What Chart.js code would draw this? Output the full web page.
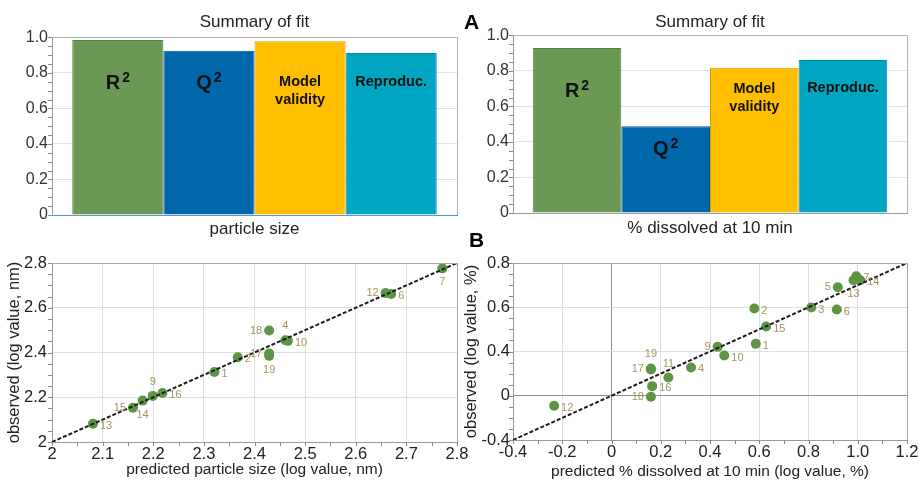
<!DOCTYPE html>
<html>
<head>
<meta charset="utf-8">
<script src="https://cdn.jsdelivr.net/npm/chart.js@4.4.1/dist/chart.umd.min.js"></script>
<style>
  body { margin:0; background:#fff; width:919px; height:481px; position:relative; overflow:hidden; font-family:'Liberation Sans', Arial, sans-serif; }
  canvas { position:absolute; }
  #fitParticle { left:0; top:0; }
  #fitDissolved { left:460px; top:0; }
  #obsParticle { left:0; top:240px; }
  #obsDissolved { left:460px; top:240px; }
  .tag { position:absolute; font-weight:bold; font-size:21px; line-height:1; color:#000; }
</style>
</head>
<body>
<canvas id="fitParticle" width="470" height="240"></canvas>
<canvas id="fitDissolved" width="459" height="240"></canvas>
<canvas id="obsParticle" width="470" height="241"></canvas>
<canvas id="obsDissolved" width="459" height="241"></canvas>
<div class="tag" style="left:464px;top:11px">A</div>
<div class="tag" style="left:469px;top:229px">B</div>
<script>
// summary of fit
const fitMetrics = ["R2", "Q2", "Model validity", "Reproduc."];
const fitParticle = [0.985, 0.925, 0.978, 0.912];
const fitDissolved = [0.929, 0.489, 0.818, 0.861];
const fitColors = ["#6a9955", "#0067ab", "#ffbe00", "#00a5c1"];
const fitEdges = ["#55803f", "#00558f", "#d99e00", "#008ea6"];

// observed vs predicted, particle size (log nm)
const particleIds  = ["1", "2", "4", "6", "7", "9", "10", "12", "13", "14", "15", "16", "17", "18", "19"];
const particlePred = [2.321, 2.367, 2.461, 2.670, 2.771, 2.199, 2.466, 2.659, 2.081, 2.179, 2.160, 2.218, 2.429, 2.429, 2.429];
const particleObs  = [2.313, 2.379, 2.455, 2.662, 2.776, 2.206, 2.452, 2.666, 2.082, 2.185, 2.153, 2.219, 2.395, 2.498, 2.385];

// observed vs predicted, % dissolved at 10 min (log %)
const dissolvedIds  = ["1", "2", "3", "4", "5", "6", "7", "9", "10", "11", "12", "13", "14", "15", "16", "17", "18", "19"];
const dissolvedPred = [0.586, 0.580, 0.811, 0.323, 0.919, 0.915, 0.994, 0.431, 0.458, 0.231, -0.233, 0.983, 1.010, 0.628, 0.165, 0.160, 0.160, 0.160];
const dissolvedObs  = [0.469, 0.788, 0.797, 0.256, 0.980, 0.779, 1.080, 0.442, 0.364, 0.165, -0.090, 1.044, 1.044, 0.626, 0.087, 0.238, -0.009, 0.247];

// y tick labels of the dissolved plot, as printed
const dissolvedYTicks = [-0.4, 0, 0.4, 0.8, 1.2];
const dissolvedYLabels = ["-0.4", "0", "0.4", "0.6", "0.8"];

// where the point numbers sit
const particleSides = {"1":"r","2":"r","4":"t","6":"r","7":"b","9":"t","10":"r","12":"l","13":"r","14":"b","15":"l","16":"r","17":"l","18":"l","19":"b"};
const dissolvedSides = {"1":"r","2":"r","3":"r","4":"r","5":"l","6":"r","7":"r","9":"l","10":"r","11":"t","12":"r","13":"b","14":"r","15":"r","16":"r","17":"l","18":"l","19":"t"};

Chart.defaults.font.family = "'Liberation Sans', Arial, sans-serif";
Chart.defaults.color = "#333";
Chart.defaults.animation = false;
Chart.defaults.responsive = false;
Chart.defaults.plugins.legend.display = false;
Chart.defaults.plugins.tooltip.enabled = false;

// fixed axis sizes so the plot areas line up with the figure
function fixWidth(w) {
  return s => { s.width = w; s.paddingTop = 0; s.paddingBottom = 0; s.paddingLeft = 0; s.paddingRight = 0; };
}
function fixHeight(h) {
  return s => { s.height = h; s.paddingTop = 0; s.paddingBottom = 0; s.paddingLeft = 0; s.paddingRight = 0; };
}
const dec = v => Math.abs(v) < 1e-9 ? "0" : v.toFixed(1);
const evenOnly = v => Math.round(v * 10) % 2 === 0 ? dec(v) : "";
const sizeLabel = v => Math.abs(v - 2) < 1e-9 ? "2" : v.toFixed(1);

const frame = {
  id: "frame",
  afterDraw(chart, args, opts) {
    if (!opts.color) return;
    const {ctx, chartArea: a} = chart;
    ctx.save();
    ctx.strokeStyle = opts.color;
    ctx.lineWidth = 1;
    ctx.beginPath();
    ctx.moveTo(a.left, Math.round(a.top) + 0.5);
    ctx.lineTo(Math.round(a.right) + 0.5, Math.round(a.top) + 0.5);
    ctx.lineTo(Math.round(a.right) + 0.5, a.bottom);
    ctx.stroke();
    ctx.restore();
  }
};

const minorTicks = {
  id: "minorTicks",
  afterDraw(chart, args, opts) {
    const {ctx, chartArea: a, scales} = chart;
    ctx.save();
    ctx.strokeStyle = "#8a8a8a";
    ctx.lineWidth = 1;
    ctx.beginPath();
    if (opts.y) {
      const y = scales.y, n = Math.round((y.max - y.min) / opts.y);
      for (let i = 0; i <= n; i++) {
        const p = Math.round(y.getPixelForValue(y.min + i * opts.y)) + 0.5;
        ctx.moveTo(a.left - 4, p); ctx.lineTo(a.left, p);
      }
    }
    if (opts.x) {
      const x = scales.x, n = Math.round((x.max - x.min) / opts.x);
      for (let i = 0; i <= n; i++) {
        const p = Math.round(x.getPixelForValue(x.min + i * opts.x)) + 0.5;
        ctx.moveTo(p, a.bottom); ctx.lineTo(p, a.bottom + 4);
      }
    }
    ctx.stroke();
    ctx.restore();
  }
};

const barText = {
  id: "barText",
  afterDatasetsDraw(chart, args, opts) {
    if (!opts.at) return;
    const {ctx, scales: {y}} = chart;
    ctx.save();
    ctx.fillStyle = "#111";
    chart.data.datasets.forEach((ds, i) => {
      const bar = chart.getDatasetMeta(i).data[0];
      const cy = y.getPixelForValue(opts.at[i]);
      const name = ds.label;
      const sup = name.match(/^([A-Z])2$/);
      if (sup) {
        ctx.font = "bold 20px 'Liberation Sans', Arial, sans-serif";
        const wm = ctx.measureText(sup[1]).width;
        ctx.font = "bold 14px 'Liberation Sans', Arial, sans-serif";
        const ws = ctx.measureText("2").width;
        const x0 = bar.x - (wm + 2 + ws) / 2;
        const base = cy + 7;
        ctx.textAlign = "left";
        ctx.textBaseline = "alphabetic";
        ctx.font = "bold 20px 'Liberation Sans', Arial, sans-serif";
        ctx.fillText(sup[1], x0, base);
        ctx.font = "bold 14px 'Liberation Sans', Arial, sans-serif";
        ctx.fillText("2", x0 + wm + 2, base - 7);
      } else {
        ctx.font = "bold 14.5px 'Liberation Sans', Arial, sans-serif";
        ctx.textAlign = "center";
        ctx.textBaseline = "middle";
        const lines = name === "Model validity" ? ["Model", "validity"] : [name];
        lines.forEach((t, k) => ctx.fillText(t, bar.x, cy + k * 17.5));
      }
    });
    ctx.restore();
  }
};

const pointIds = {
  id: "pointIds",
  afterDatasetsDraw(chart, args, opts) {
    if (!opts.ids) return;
    const {ctx} = chart;
    ctx.save();
    ctx.font = "11px 'Liberation Sans Narrow', 'Liberation Sans', Arial, sans-serif";
    ctx.fillStyle = "#a3955f";
    chart.getDatasetMeta(0).data.forEach((pt, i) => {
      const id = opts.ids[i];
      const side = opts.sides[id] || "r";
      let x = pt.x, y = pt.y;
      ctx.textBaseline = "middle";
      if (side === "r") { ctx.textAlign = "left"; x += 7; y += 2; }
      else if (side === "l") { ctx.textAlign = "right"; x -= 7; }
      else if (side === "t") { ctx.textAlign = "center"; y -= 14; }
      else { ctx.textAlign = "center"; y += 14; }
      ctx.fillText(id, x, y);
    });
    ctx.restore();
  }
};

Chart.register(frame, minorTicks, barText, pointIds);

function fitChart(id, category, values, labelAt, yWidth, xHeight, padRight, titlePad, xBorder, tickPad) {
  return new Chart(document.getElementById(id), {
    type: "bar",
    data: {
      labels: [category],
      datasets: fitMetrics.map((m, i) => ({
        label: m,
        data: [values[i]],
        backgroundColor: fitColors[i],
        borderColor: fitEdges[i],
        borderWidth: 1,
        barPercentage: 1,
        categoryPercentage: 0.9
      }))
    },
    options: {
      layout: {padding: {left: 0, right: padRight, top: 0, bottom: 0}},
      scales: {
        x: {
          grid: {display: false, drawTicks: false},
          border: xBorder,
          ticks: {padding: tickPad, color: "#222", font: {size: 17}},
          afterFit: fixHeight(xHeight)
        },
        y: {
          min: 0, max: 1,
          grid: {color: "#e2e2e2", drawTicks: false},
          border: {color: "#9a9a9a"},
          ticks: {stepSize: 0.1, padding: 4, color: "#333", font: {size: 16}, callback: evenOnly},
          afterFit: fixWidth(yWidth)
        }
      },
      plugins: {
        title: {display: true, text: "Summary of fit", fullSize: false, color: "#222",
                font: {size: 17, weight: "normal"}, padding: titlePad},
        frame: {color: "#b4b4b4"},
        minorTicks: {y: 0.05},
        barText: {at: labelAt}
      }
    }
  });
}

fitChart("fitParticle", "particle size", fitParticle, [0.747, 0.747, 0.747, 0.747],
  52, 25, 13, {top: 12, bottom: 5}, {color: "#5d95d0", dash: [1, 1], width: 1}, 4);
fitChart("fitDissolved", "% dissolved at 10 min", fitDissolved, [0.691, 0.365, 0.697, 0.702],
  53, 27, 12, {top: 12, bottom: 3}, {color: "#9a9a9a", width: 1}, 5);

function obsChart(id, ids, pred, obs, sides, lim, opt) {
  return new Chart(document.getElementById(id), {
    type: "scatter",
    data: {
      datasets: [
        {
          data: pred.map((p, i) => ({x: p, y: obs[i]})),
          backgroundColor: "#5e9444",
          borderWidth: 0,
          pointRadius: 5,
          order: 1
        },
        {
          data: [{x: lim[0], y: lim[0]}, {x: lim[1], y: lim[1]}],
          showLine: true,
          borderColor: "#1c1c1c",
          borderWidth: 2,
          borderDash: [4, 2],
          pointRadius: 0,
          order: 0
        }
      ]
    },
    options: {
      layout: {padding: {left: 0, right: opt.padRight, top: 23, bottom: 0}},
      scales: {
        x: {
          min: lim[0], max: lim[1],
          grid: {color: opt.gridColor, drawTicks: false},
          border: {color: "#9a9a9a"},
          ticks: {stepSize: opt.xStep, padding: 3, color: "#222", font: {size: 16.5}, callback: opt.xLabel},
          title: {display: true, text: opt.xTitle, color: "#222", font: {size: 15.5}, padding: {top: 0, bottom: opt.xTitlePad}},
          afterFit: fixHeight(opt.xHeight)
        },
        y: {
          min: lim[0], max: lim[1],
          grid: {color: opt.gridColor, drawTicks: false},
          border: {color: "#9a9a9a"},
          ticks: {stepSize: opt.yStep, padding: opt.yTickPad, color: "#222", font: {size: 16.5}, callback: opt.yLabel},
          title: {display: true, text: opt.yTitle, color: "#222", font: {size: 16.5}, padding: {top: opt.yTitlePad, bottom: 0}},
          afterFit: fixWidth(opt.yWidth)
        }
      },
      plugins: {
        frame: {color: "#a6a6a6"},
        minorTicks: {x: opt.minor, y: opt.minor},
        pointIds: {ids: ids, sides: sides}
      }
    }
  });
}

obsChart("obsParticle", particleIds, particlePred, particleObs, particleSides, [2, 2.8], {
  padRight: 13, xHeight: 39, yWidth: 52, xStep: 0.1, yStep: 0.1, minor: 0.05,
  gridColor: "#dedede", yTickPad: 5, xTitlePad: 2, yTitlePad: 5,
  xTitle: "predicted particle size (log value, nm)", yTitle: "observed (log value, nm)",
  xLabel: sizeLabel,
  yLabel: v => Math.round(v * 10) % 2 === 0 ? sizeLabel(v) : ""
});

obsChart("obsDissolved", dissolvedIds, dissolvedPred, dissolvedObs, dissolvedSides, [-0.4, 1.2], {
  padRight: 12, xHeight: 41, yWidth: 53, xStep: 0.2, yStep: 0.2, minor: 0.1,
  gridColor: c => Math.abs(c.tick.value) < 1e-9 ? "#8f8f8f" : "#dedede",
  yTickPad: 3, xTitlePad: 0, yTitlePad: 2,
  xTitle: "predicted % dissolved at 10 min (log value, %)", yTitle: "observed (log value, %)",
  xLabel: dec,
  yLabel: v => {
    const k = dissolvedYTicks.findIndex(t => Math.abs(t - v) < 1e-6);
    return k < 0 ? "" : dissolvedYLabels[k];
  }
});
</script>
</body>
</html>
